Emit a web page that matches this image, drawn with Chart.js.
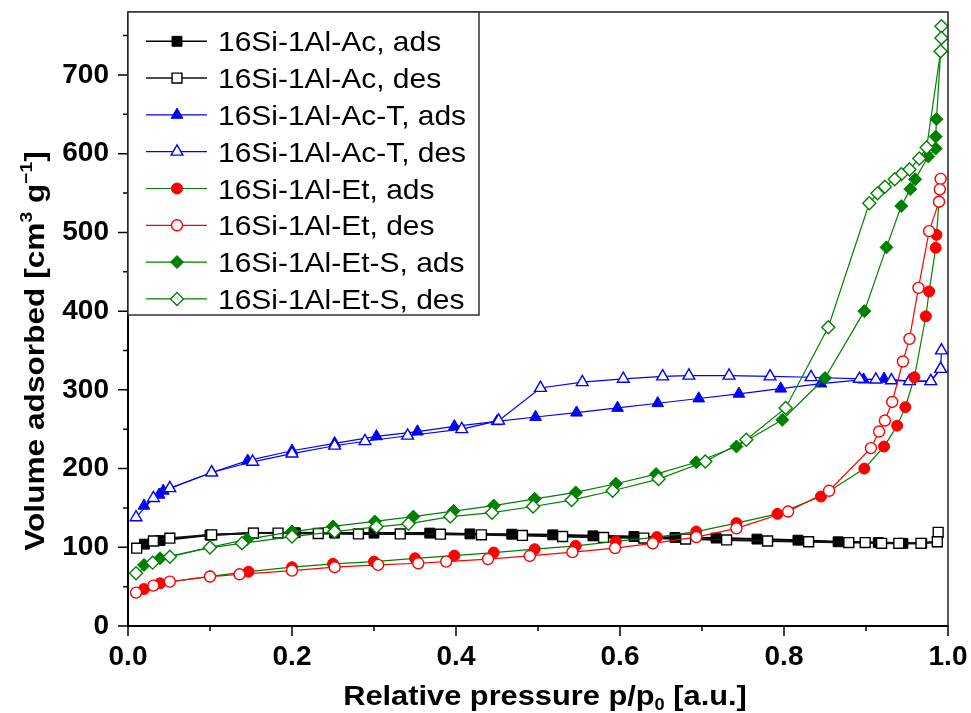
<!DOCTYPE html>
<html>
<head>
<meta charset="utf-8">
<script src="https://cdn.jsdelivr.net/npm/chart.js"></script>
<style>
  html, body { margin: 0; padding: 0; background: #fff; }
  canvas { display: block; }
</style>
</head>
<body>
<canvas id="isotherm" width="971" height="713"></canvas>
<script>
// Axis ticks
const X_TICKS = [0, 0.2, 0.4, 0.6, 0.8, 1.0];
const X_MINOR = [0.1, 0.3, 0.5, 0.7, 0.9];
const Y_TICKS = [0, 100, 200, 300, 400, 500, 600, 700];
const Y_MINOR = [50, 150, 250, 350, 450, 550, 650, 750];

// 16Si-1Al-Ac
const acAdsP = [0.02, 0.039, 0.1, 0.153, 0.204, 0.252, 0.3, 0.368, 0.417, 0.468, 0.518, 0.567, 0.617, 0.667, 0.717, 0.767, 0.817, 0.866, 0.915, 0.945, 0.968, 0.987];
const acAdsV = [104, 108.5, 115.5, 118, 118.5, 118, 118, 118, 117, 116.6, 115.8, 114.5, 113.7, 112.5, 111.7, 110.4, 109, 107, 106, 105, 105, 107];
const acDesP = [0.988, 0.987, 0.967, 0.94, 0.919, 0.899, 0.879, 0.83, 0.78, 0.73, 0.68, 0.629, 0.58, 0.53, 0.481, 0.431, 0.381, 0.332, 0.281, 0.232, 0.183, 0.153, 0.102, 0.051, 0.031, 0.0106];
const acDesV = [119, 107, 105, 105, 105, 106, 106, 107, 108, 109.4, 110.4, 111.7, 112.5, 113.7, 115, 115.8, 116.6, 117, 117, 117.5, 118, 118, 115.8, 111.6, 108, 98.9];

// 16Si-1Al-Ac-T
const actAdsP = [0.0195, 0.038, 0.043, 0.102, 0.146, 0.2, 0.252, 0.303, 0.353, 0.398, 0.45, 0.497, 0.547, 0.597, 0.646, 0.696, 0.745, 0.796, 0.845, 0.897, 0.922, 0.953, 0.979, 0.991];
const actAdsV = [152.7, 166.7, 171.7, 195, 210, 222.6, 232, 241, 247, 253.6, 260, 265.5, 271, 277, 283, 289, 295, 301.5, 308, 313, 314, 311, 311, 326.5];
const actDesP = [0.992, 0.991, 0.979, 0.953, 0.931, 0.912, 0.892, 0.833, 0.783, 0.733, 0.684, 0.652, 0.604, 0.554, 0.503, 0.452, 0.407, 0.341, 0.289, 0.252, 0.2, 0.152, 0.102, 0.051, 0.031, 0.0098];
const actDesV = [350, 326.5, 311, 311, 312, 313, 314, 316, 317, 318, 318, 317, 314, 309.7, 302.4, 260.8, 250, 241.7, 234.7, 229, 219, 208.6, 195, 175, 162.5, 138];

// 16Si-1Al-Et
const etAdsP = [0.0195, 0.039, 0.1, 0.147, 0.2, 0.25, 0.3, 0.35, 0.398, 0.446, 0.496, 0.546, 0.595, 0.645, 0.693, 0.742, 0.792, 0.845, 0.898, 0.922, 0.938, 0.948, 0.959, 0.973, 0.977, 0.985, 0.986, 0.989];
const etAdsV = [47, 54.3, 63, 69, 74.7, 79, 81.8, 86, 89.5, 93.3, 97.6, 101.8, 107.5, 113, 120, 130.7, 142.5, 164.5, 200, 228, 254.5, 278, 316, 393.5, 425, 480.5, 497, 539];
const etDesP = [0.991, 0.99, 0.989, 0.977, 0.964, 0.953, 0.945, 0.932, 0.923, 0.916, 0.906, 0.855, 0.805, 0.742, 0.693, 0.64, 0.594, 0.542, 0.49, 0.439, 0.388, 0.354, 0.305, 0.252, 0.2, 0.136, 0.1, 0.051, 0.031, 0.0098];
const etDesV = [568, 554.7, 539, 501.6, 429.6, 364.8, 336, 284.6, 261, 247, 226, 171.8, 145.4, 124, 113, 105, 99, 93.8, 89, 85, 81.8, 79.7, 77.6, 74.7, 70.4, 65.7, 62.8, 56.4, 51.3, 42.4];

// 16Si-1Al-Et-S
const etsAdsP = [0.0195, 0.039, 0.1, 0.145, 0.2, 0.25, 0.301, 0.348, 0.397, 0.446, 0.496, 0.546, 0.595, 0.644, 0.693, 0.742, 0.798, 0.85, 0.898, 0.925, 0.943, 0.954, 0.96, 0.976, 0.985, 0.985, 0.986, 0.991];
const etsAdsV = [77.6, 86, 100, 110, 120, 126.5, 132.8, 139, 146, 153, 161.6, 169.7, 180.7, 193, 208, 228, 262, 315, 400, 481, 533.5, 555, 567.5, 596.5, 606.5, 621.7, 643.8, 730];
const etsDesP = [0.992, 0.992, 0.991, 0.974, 0.965, 0.953, 0.943, 0.935, 0.923, 0.914, 0.904, 0.854, 0.802, 0.754, 0.704, 0.647, 0.591, 0.541, 0.494, 0.444, 0.393, 0.342, 0.303, 0.252, 0.2, 0.139, 0.1, 0.051, 0.03, 0.0098];
const etsDesV = [762, 747, 730, 608, 594, 580, 574, 567.6, 558, 549.6, 537, 379.5, 277, 236.6, 209, 186.6, 171.8, 160, 151.8, 144, 139, 129.8, 126, 120, 113.6, 105, 99.6, 88, 80.5, 67];

const FONT = 'Liberation Sans, Arial, sans-serif';

function zip(xs, ys) {
    return xs.map((x, i) => ({ x: x, y: ys[i] }));
}

// line colour, marker style/colour, filled or open
function series(label, xs, ys, line, width, style, radius, marker, filled, order) {
    return {
        label: label,
        data: zip(xs, ys),
        borderColor: line,
        borderWidth: width,
        pointStyle: style,
        pointRadius: radius,
        pointHoverRadius: radius,
        pointBorderColor: marker,
        pointBackgroundColor: filled ? marker : '#ffffff',
        pointBorderWidth: filled ? 1 : 1.4,
        tension: 0,
        fill: false,
        order: order
    };
}

const datasets = [
    series('16Si-1Al-Ac, ads', acAdsP, acAdsV, '#000000', 2, 'rect', 7, '#000000', true, 8),
    series('16Si-1Al-Ac, des', acDesP, acDesV, '#111111', 2, 'rect', 7, '#000000', false, 7),
    series('16Si-1Al-Ac-T, ads', actAdsP, actAdsV, '#0000ff', 1.2, 'triangle', 6.8, '#0000ff', true, 6),
    series('16Si-1Al-Ac-T, des', actDesP, actDesV, '#0000ff', 1.2, 'triangle', 6.8, '#0000ff', false, 5),
    series('16Si-1Al-Et, ads', etAdsP, etAdsV, '#008000', 1.2, 'circle', 5.5, '#ff0000', true, 4),
    series('16Si-1Al-Et, des', etDesP, etDesV, '#ff0000', 1.2, 'circle', 5.5, '#ff0000', false, 3),
    series('16Si-1Al-Et-S, ads', etsAdsP, etsAdsV, '#008000', 1.2, 'rectRot', 6.5, '#008000', true, 2),
    series('16Si-1Al-Et-S, des', etsDesP, etsDesV, '#008000', 1.2, 'rectRot', 6.5, '#008000', false, 1)
];

// text with sub/superscript parts, stretched horizontally by sx
function drawRich(ctx, parts, size, sx) {
    const big = 'bold ' + size + 'px ' + FONT;
    const small = 'bold ' + Math.round(size * 0.6) + 'px ' + FONT;
    let total = 0;
    parts.forEach(p => {
        ctx.font = p.sup || p.sub ? small : big;
        p.w = ctx.measureText(p.t).width;
        total += p.w;
    });
    ctx.scale(sx, 1);
    let x = -total / 2;
    ctx.textAlign = 'left';
    ctx.textBaseline = 'alphabetic';
    parts.forEach(p => {
        ctx.font = p.sup || p.sub ? small : big;
        const dy = p.sup ? -size * 0.42 : (p.sub ? size * 0.2 : 0);
        ctx.fillText(p.t, x, dy);
        x += p.w;
    });
}

function marker(ctx, ds, x, y) {
    ctx.fillStyle = ds.pointBackgroundColor;
    ctx.strokeStyle = ds.pointBorderColor;
    ctx.lineWidth = ds.pointBorderWidth;
    if (Chart.helpers && Chart.helpers.drawPoint) {
        Chart.helpers.drawPoint(ctx, {
            pointStyle: ds.pointStyle,
            radius: ds.pointRadius,
            borderWidth: ds.pointBorderWidth,
            rotation: 0
        }, x, y);
        return;
    }
    ctx.beginPath();
    ctx.arc(x, y, ds.pointRadius, 0, Math.PI * 2);
    ctx.fill();
    ctx.stroke();
}

const framePlugin = {
    id: 'frame',
    afterDraw(chart) {
        const ctx = chart.ctx;
        const a = chart.chartArea;
        const xs = chart.scales.x;
        const ys = chart.scales.y;
        ctx.save();

        // plot box
        ctx.strokeStyle = '#222';
        ctx.lineWidth = 1.5;
        ctx.strokeRect(a.left, a.top, a.right - a.left, a.bottom - a.top);
        ctx.strokeStyle = '#000';
        ctx.lineWidth = 2;
        ctx.beginPath();
        ctx.moveTo(a.left, a.top);
        ctx.lineTo(a.left, a.bottom);
        ctx.lineTo(a.right, a.bottom);
        ctx.stroke();

        // outward ticks
        ctx.lineWidth = 1.5;
        ctx.beginPath();
        X_TICKS.forEach(v => {
            const px = xs.getPixelForValue(v);
            ctx.moveTo(px, a.bottom); ctx.lineTo(px, a.bottom + 10);
        });
        X_MINOR.forEach(v => {
            const px = xs.getPixelForValue(v);
            ctx.moveTo(px, a.bottom); ctx.lineTo(px, a.bottom + 5);
        });
        Y_TICKS.forEach(v => {
            const py = ys.getPixelForValue(v);
            ctx.moveTo(a.left, py); ctx.lineTo(a.left - 10, py);
        });
        Y_MINOR.forEach(v => {
            const py = ys.getPixelForValue(v);
            ctx.moveTo(a.left, py); ctx.lineTo(a.left - 5, py);
        });
        ctx.stroke();

        // legend
        const lx = a.left, ly = a.top, lw = 351, lh = 303;
        ctx.fillStyle = '#fff';
        ctx.fillRect(lx, ly, lw, lh);
        ctx.strokeStyle = '#333';
        ctx.lineWidth = 1.5;
        ctx.strokeRect(lx, ly, lw, lh);
        datasets.forEach((ds, i) => {
            const cy = ly + 29.3 + i * 36.8;
            ctx.strokeStyle = ds.borderColor;
            ctx.lineWidth = Math.min(ds.borderWidth, 1.5);
            ctx.beginPath();
            ctx.moveTo(lx + 18, cy); ctx.lineTo(lx + 79, cy);
            ctx.stroke();
            marker(ctx, ds, lx + 49, cy);
            ctx.save();
            ctx.translate(lx + 90, cy + 10);
            ctx.scale(1.07, 1);
            ctx.fillStyle = '#000';
            ctx.font = '28px ' + FONT;
            ctx.textAlign = 'left';
            ctx.textBaseline = 'alphabetic';
            ctx.fillText(ds.label, 0, 0);
            ctx.restore();
        });

        // axis titles
        ctx.fillStyle = '#000';
        ctx.save();
        ctx.translate(545, 705);
        drawRich(ctx, [{ t: 'Relative pressure p/p' }, { t: '0', sub: true }, { t: ' [a.u.]' }], 27, 1.14);
        ctx.restore();

        ctx.save();
        ctx.translate(44, 351);
        ctx.rotate(-Math.PI / 2);
        drawRich(ctx, [{ t: 'Volume adsorbed [cm' }, { t: '3', sup: true }, { t: ' g' }, { t: '\u22121', sup: true }, { t: ']' }], 28, 1.13);
        ctx.restore();

        ctx.restore();
    }
};

const tickFont = { family: FONT, size: 28, weight: 'bold' };

// no automatic label overhang padding: plot box is placed by the layout padding
function noPad(s) {
    s.paddingTop = 0;
    s.paddingBottom = 0;
    s.paddingLeft = 0;
    s.paddingRight = 0;
}

new Chart(document.getElementById('isotherm'), {
    type: 'line',
    data: { datasets: datasets },
    options: {
        responsive: false,
        animation: false,
        devicePixelRatio: 1,
        layout: { padding: { top: 12, right: 23, left: 0, bottom: 0 } },
        plugins: {
            legend: { display: false },
            tooltip: { enabled: false }
        },
        scales: {
            x: {
                type: 'linear',
                min: 0,
                max: 1,
                grid: { display: false, drawTicks: false },
                border: { display: false },
                afterBuildTicks: s => { s.ticks = X_TICKS.map(v => ({ value: v })); },
                afterFit: s => { s.height = 87; noPad(s); },
                ticks: {
                    font: tickFont,
                    color: '#000',
                    padding: 14,
                    maxRotation: 0,
                    autoSkip: false,
                    callback: v => Number(v).toFixed(1)
                }
            },
            y: {
                type: 'linear',
                min: 0,
                max: 780,
                grid: { display: false, drawTicks: false },
                border: { display: false },
                afterBuildTicks: s => { s.ticks = Y_TICKS.map(v => ({ value: v })); },
                afterFit: s => { s.width = 128; noPad(s); },
                ticks: {
                    font: tickFont,
                    color: '#000',
                    padding: 19,
                    autoSkip: false,
                    callback: v => String(v)
                }
            }
        }
    },
    plugins: [framePlugin]
});
</script>
</body>
</html>
